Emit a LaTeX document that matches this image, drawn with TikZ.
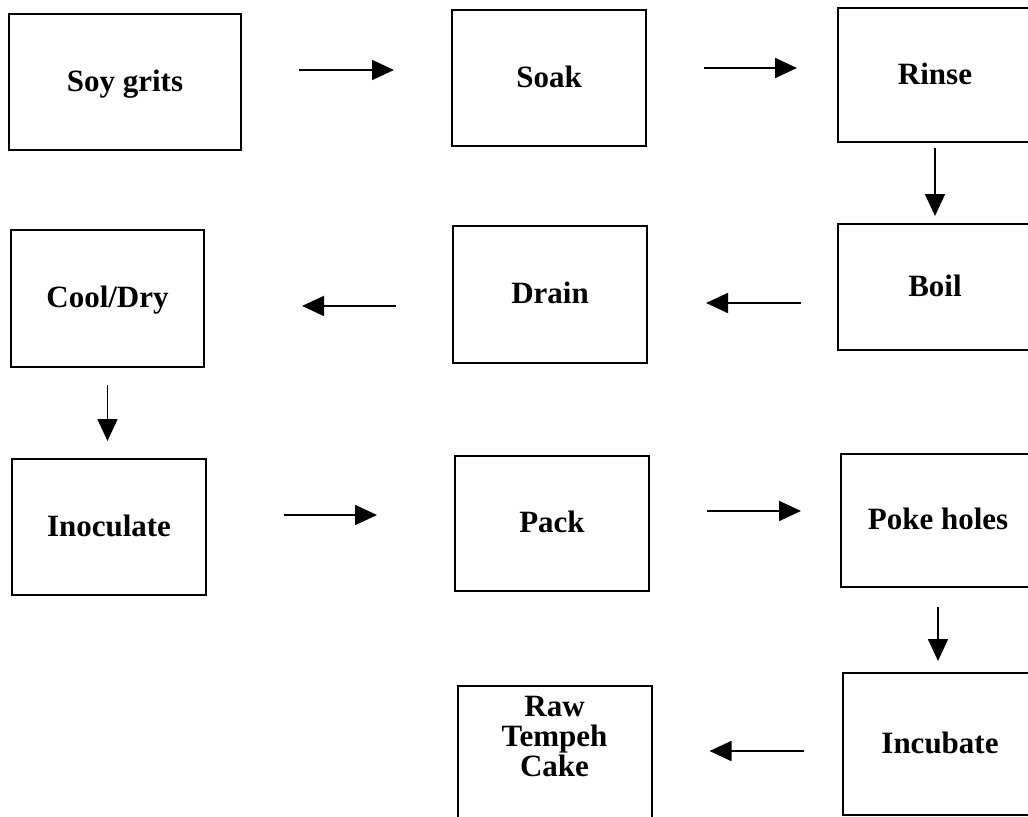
\documentclass[tikz,border=0pt]{standalone}
\usepackage{fontspec}
\setmainfont{Liberation Serif}
\usetikzlibrary{arrows.meta}

\newdimen\pxu
\pxu=0.75pt
\newcommand\procfont{\bfseries\fontsize{23.25}{22.5}\selectfont}

\tikzset{
    procbox/.style={draw, line width=1.5pt, minimum width=194\pxu, minimum height=136\pxu,
        inner sep=0pt, font=\procfont, text height=15pt, text depth=1pt},
    endbox/.style={draw, line width=1.5pt, minimum width=194\pxu, inner xsep=0pt,
        inner ysep=7.5pt, font=\procfont, align=center, text depth=80pt},
    flow/.style={line width=1.3pt, -{Triangle[length=16.5pt,width=15pt]}}
}

\begin{document}
\begin{tikzpicture}[x=0.75pt,y=-0.75pt]
        \useasboundingbox (0,0) rectangle (1028,817);
        \clip (0,0) rectangle (1028,817);

        % first row
        \node[procbox, minimum width=232\pxu] (soy) at (125,82) {Soy grits};
        \node[procbox] (soak) at (549,78) {Soak};
        \node[procbox, minimum height=134\pxu] (rinse) at (935,75) {Rinse};

        % second row
        \node[procbox, minimum height=126\pxu] (boil) at (935,287) {Boil};
        \node[procbox, minimum height=137\pxu] (drain) at (550,294.5) {Drain};
        \node[procbox, minimum width=193\pxu, minimum height=137\pxu] (cool) at (107.5,298.5) {Cool/Dry};

        % third row
        \node[procbox] (inoc) at (109,527) {Inoculate};
        \node[procbox, minimum height=135\pxu] (pack) at (552,523.5) {Pack};
        \node[procbox, minimum height=133\pxu] (poke) at (938,520.5) {Poke holes};

        % last row
        \node[procbox, minimum height=142\pxu] (incub) at (940,744) {Incubate};
        \node[endbox, anchor=north] (raw) at (554.5,685) {Raw\\Tempeh\\Cake};

        \draw[flow, shorten <=57\pxu, shorten >=57\pxu] ([yshift=9pt]soy.east) -- ([yshift=9pt]soy.east -| soak.west);
        \draw[flow, shorten <=57\pxu, shorten >=40\pxu] ([yshift=7.5pt]soak.east) -- ([yshift=7.5pt]soak.east -| rinse.west);
        \draw[flow, shorten <=5\pxu, shorten >=7\pxu] (rinse.south) -- (boil.north);
        \draw[flow, shorten <=36\pxu, shorten >=58\pxu] ([yshift=-12pt]boil.west) -- ([yshift=-12pt]boil.west -| drain.east);
        \draw[flow, shorten <=56\pxu, shorten >=97\pxu] ([yshift=-8.6pt]drain.west) -- ([yshift=-8.6pt]drain.west -| cool.east);
        \draw[flow, shorten <=17\pxu, shorten >=17\pxu] (cool.south) -- (cool.south |- inoc.north);
        \draw[flow, shorten <=77\pxu, shorten >=77\pxu] ([yshift=9pt]inoc.east) -- ([yshift=9pt]inoc.east -| pack.west);
        \draw[flow, shorten <=57\pxu, shorten >=39\pxu] ([yshift=9.4pt]pack.east) -- ([yshift=9.4pt]pack.east -| poke.west);
        \draw[flow, shorten <=19\pxu, shorten >=11\pxu] (poke.south) -- (poke.south |- incub.north);
        \draw[flow, shorten <=38\pxu, shorten >=57\pxu] ([yshift=-5.25pt]incub.west) -- ([yshift=-5.25pt]incub.west -| raw.east);

\end{tikzpicture}
\end{document}
